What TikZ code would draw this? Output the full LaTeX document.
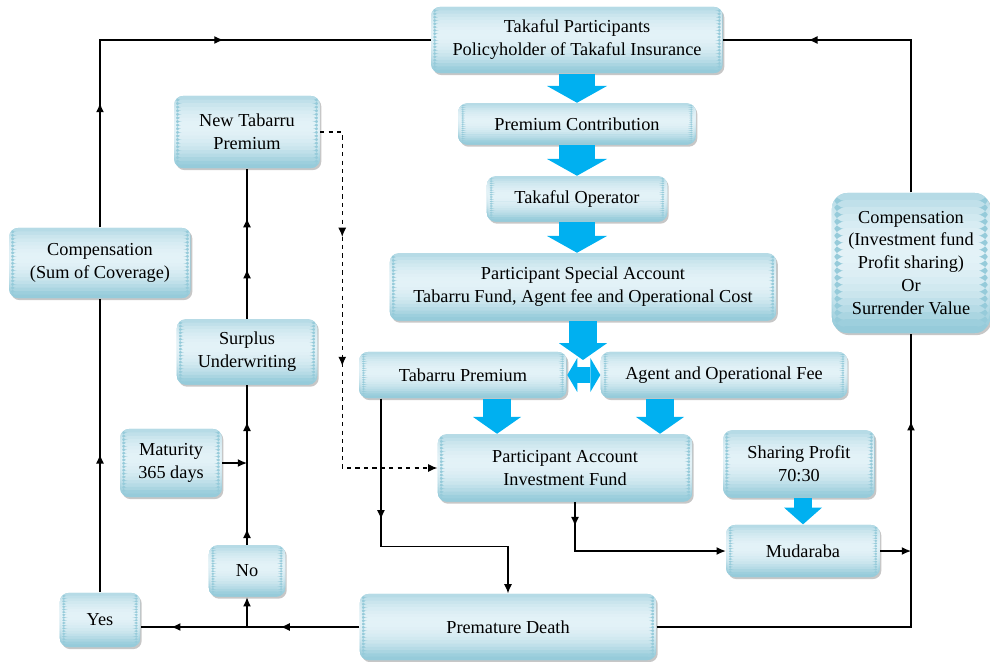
\documentclass[tikz,border=0pt]{standalone}
\usepackage{fontspec}
\setmainfont{Liberation Serif}
\usetikzlibrary{arrows.meta,calc,decorations.markings}

\definecolor{boxedge}{HTML}{96CBDA}
\definecolor{boxlight}{HTML}{E3F2F7}
\definecolor{flowblue}{HTML}{00B0F0}

% soft vertical gradient inside the boxes
\newcommand\boxfade{%
	\path (path picture bounding box.north west) coordinate (fadetop)
	      (path picture bounding box.south east) coordinate (fadebot);
	\foreach \k in {0,...,19}{%
		\pgfmathtruncatemacro\fadepct{max(0,100-100*(\k-8)*(\k-8)/110)}%
		\fill[boxlight!\fadepct!boxedge] ($(fadetop)!{\k/20}!(fadetop |- fadebot)$) rectangle ($(fadebot |- fadetop)!{(\k+1.2)/20}!(fadebot)$);
	}%
}

\tikzset{
	box/.style={rounded corners=6pt, fill=boxedge, path picture={\boxfade},
		preaction={fill=black!22, transform canvas={xshift=1.2pt, yshift=-1.5pt}},
		align=center, inner sep=2pt, font=\fontsize{13}{16.3}\selectfont},
	flow/.style 2 args={draw=flowblue, line width=#1, -{Triangle[width=#2, length=0.42cm, line width=0pt]}},
	flowboth/.style={draw=flowblue, line width=0.4cm,
		{Triangle[width=0.85cm, length=0.25cm, line width=0pt]}-{Triangle[width=0.85cm, length=0.25cm, line width=0pt]}},
	onemark/.style={postaction={decorate, decoration={markings, mark=at position #1 with {\arrow{>}}}}}
}

\begin{document}
\begin{tikzpicture}[x=0.025cm, y=-0.025cm, >={Latex[length=2.3mm, width=2mm]}, line width=0.9pt]
	\useasboundingbox (0,0) rectangle (990,662);

	% centre column
	\node[box, minimum width=7.28cm, minimum height=1.65cm] (part) at (577,40) {Takaful Participants\\Policyholder of Takaful Insurance};
	\node[box, minimum width=5.93cm, minimum height=1.03cm] (prem) at (577,124) {Premium Contribution};
	\node[box, minimum width=4.5cm, minimum height=1.13cm] (oper) at (577,199) {Takaful Operator};
	\node[box, minimum width=9.65cm, minimum height=1.68cm] (spec) at (583,287) {Participant Special Account\\Tabarru Fund, Agent fee and Operational Cost};
	\node[box, minimum width=5.18cm, minimum height=1.15cm] (tab) at (463,375) {Tabarru Premium};
	\node[box, minimum width=6.15cm, minimum height=1.15cm] (agent) at (724,375) {Agent and Operational Fee};
	\node[box, minimum width=6.35cm, minimum height=1.68cm] (inv) at (565,468) {Participant Account\\Investment Fund};
	\node[box, minimum width=3.78cm, minimum height=1.68cm] (share) at (799,464) {Sharing Profit\\70:30};
	\node[box, minimum width=3.83cm, minimum height=1.3cm] (muda) at (803,551) {Mudaraba};
	\node[box, minimum width=7.4cm, minimum height=1.65cm] (death) at (508,627) {Premature Death};
	\node[box, rounded corners=11pt, minimum width=3.95cm, minimum height=3.5cm] (comp) at (911,263) {Compensation\\(Investment fund\\Profit sharing)\\Or\\Surrender Value};

	% left side
	\node[box, minimum width=3.63cm, minimum height=1.8cm] (newtab) at (247,132) {New Tabarru\\Premium};
	\node[box, minimum width=4.53cm, minimum height=1.75cm] (cover) at (100,263) {Compensation\\(Sum of Coverage)};
	\node[box, minimum width=3.5cm, minimum height=1.63cm] (surplus) at (247,352) {Surplus\\Underwriting};
	\node[box, minimum width=2.53cm, minimum height=1.7cm] (matur) at (171,463) {Maturity\\365 days};
	\node[box, minimum width=1.9cm, minimum height=1.28cm] (no) at (247,571) {No};
	\node[box, minimum width=2cm, minimum height=1.35cm] (yes) at (100,620) {Yes};

	% blue flow arrows
	\coordinate (gap) at (583,360);
	\coordinate (tabdown) at ([xshift=0.85cm]tab.south);
	\coordinate (agentdown) at ([xshift=-1.6cm]agent.south);
	\draw[flow={0.92cm}{1.5cm}] (part) -- (prem);
	\draw[flow={0.92cm}{1.5cm}] (prem) -- (oper);
	\draw[flow={0.92cm}{1.5cm}] (oper) -- (oper |- spec.north);
	\draw[flow={0.7cm}{1.2cm}] (spec) -- (gap);
	\draw[flowboth] (tab) -- (agent);
	\draw[flow={0.72cm}{1.2cm}] (tabdown) -- (tabdown |- inv.north);
	\draw[flow={0.72cm}{1.2cm}] (agentdown) -- (agentdown |- inv.north);
	\draw[flow={0.45cm}{0.95cm}] (share.south -| muda.north) -- (muda.north);

	% left loop
	\draw[onemark=0.47] (yes) -- (cover);
	\draw[onemark=0.24, onemark=0.6] (cover.north) |- (part.west);
	\draw[onemark=0.36, onemark=0.86] (death.west) -- (death.west -| yes.east);
	\draw[->] (death.west -| no.south) -- (no.south);
	\draw[onemark=0.1, onemark=0.77] (no) -- (surplus);
	\draw[->] (matur.east) -- (matur.east -| no.north);
	\draw[onemark=0.33, onemark=0.67] (surplus) -- (newtab);
	\draw[dashed, ->, onemark=0.28, onemark=0.565] (newtab.east) -- ++(22,0) |- (inv.west);

	% middle and right
	\coordinate (tabout) at ([xshift=-2.05cm]tab.south);
	\coordinate (invout) at ([xshift=0.25cm]inv.south);
	\draw[->, onemark=0.375] (tabout) -- ++(0,148) -| (death.north);
	\draw[->, onemark=0.12] (invout) |- (muda.west);
	\draw[->] (muda.east) -- (muda.east -| comp.south);
	\draw[onemark=0.84] (death.east) -| (comp.south);
	\draw[onemark=0.75] (comp.north) |- (part.east);
\end{tikzpicture}
\end{document}
